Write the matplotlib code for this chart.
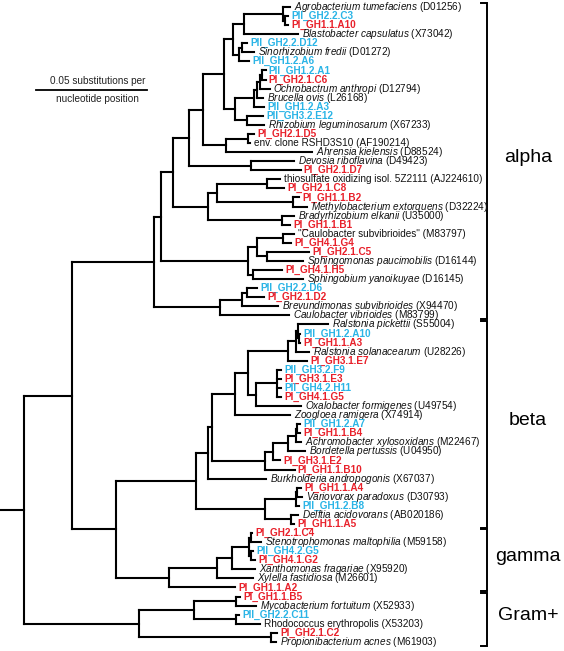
import matplotlib
matplotlib.use('Agg')
import matplotlib.pyplot as plt
from matplotlib.collections import LineCollection

plt.rcParams['font.family'] = ['Liberation Sans', 'DejaVu Sans']
plt.rcParams['mathtext.fontset'] = 'custom'
plt.rcParams['mathtext.rm'] = 'Liberation Sans'
plt.rcParams['mathtext.it'] = 'Liberation Sans:italic'
plt.rcParams['mathtext.bf'] = 'Liberation Sans:bold'

# ---------------- data ----------------
leaf_names = [
    "Agrobacterium tumefaciens", "PII_GH2.2.C3", "PI_GH1.1.A10", "Blastobacter capsulatus",
    "PII_GH2.2.D12", "Sinorhizobium fredii", "PII_GH1.2.A6", "PII_GH1.2.A1", "PI_GH2.1.C6",
    "Ochrobactrum anthropi", "Brucella ovis", "PII_GH1.2.A3", "PII_GH3.2.E12",
    "Rhizobium leguminosarum", "PI_GH2.1.D5", "env. clone RSHD3S10", "Ahrensia kielensis",
    "Devosia riboflavina", "PI_GH2.1.D7", "thiosulfate oxidizing isol. 5Z2111", "PI_GH2.1.C8",
    "PI_GH1.1.B2", "Methylobacterium extorquens", "Bradyrhizobium elkanii", "PI_GH1.1.B1",
    "\"Caulobacter subvibrioides\"", "PI_GH4.1.G4", "PI_GH2.1.C5", "Sphingomonas paucimobilis",
    "PI_GH4.1.H5", "Sphingobium yanoikuyae", "PII_GH2.2.D6", "PI_GH2.1.D2",
    "Brevundimonas subvibrioides", "Caulobacter vibrioides",
    "Ralstonia pickettii", "PII_GH1.2.A10", "PI_GH1.1.A3", "Ralstonia solanacearum",
    "PI_GH3.1.E7", "PII_GH3.2.F9", "PI_GH3.1.E3", "PII_GH4.2.H11", "PI_GH4.1.G5",
    "Oxalobacter formigenes", "Zoogloea ramigera", "PII_GH1.2.A7", "PI_GH1.1.B4",
    "Achromobacter xylosoxidans", "Bordetella pertussis", "PI_GH3.1.E2", "PI_GH1.1.B10",
    "Burkholderia andropogonis", "PI_GH1.1.A4", "Variovorax paradoxus", "PII_GH1.2.B8",
    "Delftia acidovorans", "PI_GH1.1.A5",
    "PI_GH2.1.C4", "Stenotrophomonas maltophilia", "PII_GH4.2.G5", "PI_GH4.1.G2",
    "Xanthomonas fragariae", "Xylella fastidiosa", "PI_GH1.1.A2",
    "PI_GH1.1.B5", "Mycobacterium fortuitum", "PII_GH2.2.C11", "Rhodococcus erythropolis",
    "PI_GH2.1.C2", "Propionibacterium acnes",
]
leaf_accessions = [
    "D01256", "", "", "X73042", "", "D01272", "", "", "", "D12794", "L26168", "", "",
    "X67233", "", "AF190214", "D88524", "D49423", "", "AJ224610", "", "", "D32224",
    "U35000", "", "M83797", "", "", "D16144", "", "D16145", "", "", "X94470", "M83799",
    "S55004", "", "", "U28226", "", "", "", "", "", "U49754", "X74914", "", "", "M22467",
    "U04950", "", "", "X67037", "", "D30793", "", "AB020186", "",
    "", "M59158", "", "", "X95920", "M26601", "",
    "", "X52933", "", "X53203", "", "M61903",
]
upright_names = ["env. clone RSHD3S10", "thiosulfate oxidizing isol. 5Z2111",
                 "\"Caulobacter subvibrioides\"", "Rhodococcus erythropolis"]

# Tree topology with branch lengths (substitutions per site); leaves are indices above
clade_rhizobiales_top = ("(((0:0.0032,(1:0.0014,2:0.0014):0.0009):0.0176,3:0.0243):0.0050,"
                         "((4:0.0023,5:0.0054):0.0014,6:0.0045):0.0027):0.0041")
clade_brucella = ("(((((7:0.0014,8:0.0014):0.0009,9:0.0041):0.0014,10:0.0027):0.0014,"
                  "11:0.0045):0.0086,(12:0.0072,13:0.0077):0.0054):0.0050")
clade_ahrensia = "((14:0.0027,15:0.0009):0.0099,16:0.0387):0.0104"
clade_devosia = "(17:0.0194,18:0.0225):0.0279"
clade_bradyrhizobium = ("(((19:0.0059,20:0.0077):0.0225,(21:0.0027,22:0.0063):0.0342):0.0041,"
                        "(23:0.0054,24:0.0036):0.0333):0.0158")
clade_sphingo = ("(((25:0.0050,26:0.0036):0.0117,(27:0.0189,28:0.0162):0.0045):0.0041,"
                 "(29:0.0131,30:0.0225):0.0023):0.0392")
clade_caulobacter = "(((31:0.0045,32:0.0077):0.0023,33:0.0162):0.0099,34:0.0311):0.0297"
clade_ralstonia = ("((((35:0.0135,(36:0.0005,37:0.0005):0.0005):0.0009,38:0.0059):0.0036,"
                   "39:0.0086):0.0180,((40:0.0018,41:0.0018,42:0.0018,43:0.0018):0.0095,"
                   "44:0.0203):0.0036):0.0059")
clade_bordetella = ("((((46:0.0014,47:0.0014):0.0005,48:0.0023):0.0036,49:0.0077):0.0068,"
                    "50:0.0032):0.0036")
clade_comamonas = "(((53:0.0018,54:0.0023):0.0005,55:0.0014):0.0140,(56:0.0032,57:0.0014):0.0117):0.0311"
clade_gamma = ("((((58:0.0005,59:0.0045):0.0009,(60:0.0009,61:0.0018):0.0009):0.0077,"
               "62:0.0104):0.0068,63:0.0162):0.0216")
clade_gram_pos = ("(((65:0.0018,66:0.0090):0.0189,(67:0.0014,68:0.0108):0.0189):0.0248,"
                  "(69:0.0027,70:0.0023):0.0595):0.0518")

alpha = (f"(((((({clade_rhizobiales_top},{clade_brucella}):0.0095,{clade_ahrensia}):0.0063,"
         f"{clade_devosia}):0.0072,{clade_bradyrhizobium}):0.0054,{clade_sphingo}):0.0032,"
         f"{clade_caulobacter}):0.0369")
beta = (f"(((({clade_ralstonia},45:0.0248):0.0104,({clade_bordetella},51:0.0135):0.0239):0.0018,"
        f"52:0.0261):0.0054,{clade_comamonas}):0.0360")
gamma = f"({clade_gamma},64:0.0297):0.0239"
tree_newick = f"(({alpha},({beta},{gamma}):0.0198):0.0216,{clade_gram_pos}):0.0108;"

group_names = ["alpha", "beta", "gamma", "Gram+"]
group_first_leaf = [0, 35, 58, 65]
group_last_leaf = [34, 57, 64, 70]

scale_bar_length = 0.05
scale_bar_text = ["0.05 substitutions per", "nucleotide position"]

# ---------------- parsing / layout ----------------
def parse_newick(s):
    pos = 0

    def node():
        nonlocal pos
        n = {"children": [], "leaf": None, "length": 0.0}
        if s[pos] == "(":
            pos += 1
            while True:
                n["children"].append(node())
                if s[pos] == ",":
                    pos += 1
                    continue
                if s[pos] == ")":
                    pos += 1
                    break
        else:
            st = pos
            while s[pos] not in ":,);":
                pos += 1
            n["leaf"] = int(s[st:pos])
        if s[pos] == ":":
            pos += 1
            st = pos
            while s[pos] not in ",);":
                pos += 1
            n["length"] = float(s[st:pos])
        return n

    return node()


root = parse_newick(tree_newick)


def layout(n, px):
    n["x0"] = px
    n["x"] = px + n["length"]
    if n["leaf"] is not None:
        n["y"] = float(n["leaf"])
    else:
        for c in n["children"]:
            layout(c, n["x"])
        n["y"] = 0.5 * (n["children"][0]["y"] + n["children"][-1]["y"])


layout(root, 0.0)

segs = []
tips = []


def collect(n):
    segs.append([(n["x0"], n["y"]), (n["x"], n["y"])])
    if n["leaf"] is not None:
        tips.append((n["leaf"], n["x"], n["y"]))
    else:
        segs.append([(n["x"], n["children"][0]["y"]), (n["x"], n["children"][-1]["y"])])
        for c in n["children"]:
            collect(c)


collect(root)

# ---------------- drawing ----------------
PX = 0.05 / 111.0  # data units per pixel (horizontal)
fig = plt.figure(figsize=(5.64, 6.51), dpi=100)
ax = fig.add_axes([0, 0, 1, 1])
ax.set_xlim(0, 564 * PX)
row_px = 9.07
ax.set_ylim((651 - 7) / row_px, -7 / row_px)
ax.axis("off")

lc = LineCollection(segs, colors="black", linewidths=1.5, capstyle="projecting")
ax.add_collection(lc)

RED = "#e8202a"
CYAN = "#2ab4e6"
FS = 7.2
for leaf, x, y in tips:
    name = leaf_names[leaf]
    acc = leaf_accessions[leaf]
    if name.startswith("PII_"):
        ax.annotate(name, (x, y), xytext=(2.2, 0), textcoords="offset points",
                    va="center", ha="left", fontsize=FS, fontweight="bold", color=CYAN)
    elif name.startswith("PI_"):
        ax.annotate(name, (x, y), xytext=(2.2, 0), textcoords="offset points",
                    va="center", ha="left", fontsize=FS, fontweight="bold", color=RED)
    else:
        if name in upright_names:
            txt = f"{name} ({acc})"
        else:
            txt = r"$\mathit{" + name.replace(" ", r"\ ") + "}$" + f" ({acc})"
        ax.annotate(txt, (x, y), xytext=(2.8, 0), textcoords="offset points",
                    va="center", ha="left", fontsize=FS, color="#111111")

# scale bar
sb_x0 = 36 * PX
sb_y = (90 - 7) / row_px
ax.plot([sb_x0, sb_x0 + scale_bar_length], [sb_y, sb_y], color="black", lw=1.3)
ax.text(sb_x0 + scale_bar_length / 2 + 6 * PX, sb_y - 0.45, scale_bar_text[0],
        ha="center", va="bottom", fontsize=7.2, color="#222222")
ax.text(sb_x0 + scale_bar_length / 2 + 6 * PX, sb_y + 0.45, scale_bar_text[1],
        ha="center", va="top", fontsize=7.2, color="#222222")

# group brackets
bx = 487 * PX
tick = 6 * PX
for gname, a, b in zip(group_names, group_first_leaf, group_last_leaf):
    y0, y1 = a - 0.42, b + 0.42
    ax.plot([bx - tick, bx, bx, bx - tick], [y0, y0, y1, y1], color="black", lw=1.4,
            solid_joinstyle="miter")
    ax.text(528 * PX, 0.5 * (y0 + y1) - 0.4, gname, ha="center", va="center", fontsize=14)

fig.savefig("out.png", dpi=100)
